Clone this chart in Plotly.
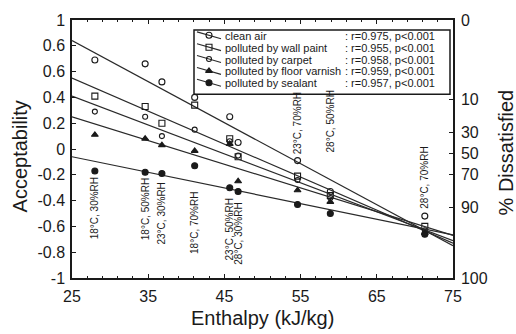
import numpy as np
import plotly.graph_objects as go

# ---------------------------------------------------------------- data
# Enthalpy of each test climate (kJ/kg)
enthalpy = [28.0, 34.6, 36.8, 41.1, 45.7, 46.8, 54.6, 58.9, 71.3]
conditions = ["18°C, 30%RH", "18°C, 50%RH", "23°C, 30%RH", "18°C, 70%RH",
              "23°C, 50%RH", "28°C, 30%RH", "23°C, 70%RH", "28°C, 50%RH",
              "28°C, 70%RH"]

series_names = ["clean air", "polluted by wall paint", "polluted by carpet",
                "polluted by floor varnish", "polluted by sealant"]

# Mean acceptability for each climate
clean_air = [0.69, 0.66, 0.52, 0.40, 0.25, 0.05, -0.09, -0.33, -0.52]
wall_paint = [0.41, 0.33, 0.20, 0.34, 0.08, -0.06, -0.21, -0.36, -0.60]
carpet = [0.29, 0.25, 0.10, 0.15, 0.06, -0.05, -0.24, -0.38, -0.63]
floor_varnish = [0.11, 0.08, 0.03, -0.015, 0.04, -0.25, -0.32, -0.41, -0.65]
sealant = [-0.17, -0.18, -0.19, -0.13, -0.30, -0.33, -0.43, -0.50, -0.66]

r_values = [0.975, 0.955, 0.958, 0.959, 0.957]
p_text = "p<0.001"

# Regression lines evaluated at both ends of the enthalpy axis
fit_enthalpy = [25, 75]
fit_clean_air = [0.84, -0.75]
fit_wall_paint = [0.55, -0.73]
fit_carpet = [0.41, -0.71]
fit_floor_varnish = [0.25, -0.67]
fit_sealant = [-0.06, -0.665]

# Axis ticks
enthalpy_ticks = [25, 35, 45, 55, 65, 75]
acc_ticks = [1, 0.8, 0.6, 0.4, 0.2, 0, -0.2, -0.4, -0.6, -0.8, -1]
acc_ticktext = ["1", "0.6", "0.6", "0.4", "0.2", "0", "-0.2", "-0.4",
                "-0.6", "-0.8", "-1"]
pd_ticks = [0, 10, 30, 50, 70, 90, 100]

# ---------------------------------------------------------------- styling
W, H = 516, 334
L, R, T, B = 72, 63, 17, 56          # plot margins (px)
PW, PH = W - L - R, H - T - B
FONT = "Arial, Liberation Sans, sans-serif"
INK = "#1a1a1a"


def px_x(px):
    return (px - L) / PW


def px_y(py):
    return (H - B - py) / PH


def pd_to_acc(pd):
    """Position of a %-dissatisfied value on the acceptability scale."""
    if pd <= 0:
        return 1.0
    if pd >= 100:
        return -1.0
    return (-0.18 - np.log(pd / (100.0 - pd))) / 5.28


series_values = [clean_air, wall_paint, carpet, floor_varnish, sealant]
series_fits = [fit_clean_air, fit_wall_paint, fit_carpet, fit_floor_varnish,
               fit_sealant]
marker_styles = [
    dict(symbol="circle-open", size=6),
    dict(symbol="square-open", size=6),
    dict(symbol="circle-open", size=5),
    dict(symbol="triangle-up", size=6),
    dict(symbol="circle", size=6),
]

fig = go.Figure()

for vals, fit, ms in zip(series_values, series_fits, marker_styles):
    fig.add_trace(go.Scatter(
        x=fit_enthalpy, y=fit, mode="lines",
        line=dict(color="#2a2a2a", width=1.2),
        showlegend=False, hoverinfo="skip"))
    fig.add_trace(go.Scatter(
        x=enthalpy, y=vals, mode="markers",
        marker=dict(symbol=ms["symbol"], size=ms["size"], color=INK,
                    line=dict(color=INK, width=1.1)),
        showlegend=False))

# dummy trace so the right-hand axis is drawn
fig.add_trace(go.Scatter(x=[None], y=[None], yaxis="y2", showlegend=False))

# ---------------------------------------------------------------- key box
row0, row_gap = 33, 12
box = dict(x0=194, x1=450, y0=27, y1=92)
fig.add_shape(type="rect", xref="paper", yref="paper",
              x0=px_x(box["x0"]), x1=px_x(box["x1"]),
              y0=px_y(box["y1"]), y1=px_y(box["y0"]),
              line=dict(color=INK, width=1.5), fillcolor="white",
              layer="below")

for i, (name, r, ms) in enumerate(zip(series_names, r_values, marker_styles)):
    ry = row0 + i * row_gap
    fig.add_trace(go.Scatter(
        x=[197, 221], y=[ry - 4, ry + 3], xaxis="x3", yaxis="y3",
        mode="lines", line=dict(color="#2a2a2a", width=1.1),
        showlegend=False, hoverinfo="skip"))
    fig.add_trace(go.Scatter(
        x=[209], y=[ry - 0.5], xaxis="x3", yaxis="y3", mode="markers",
        marker=dict(symbol=ms["symbol"], size=ms["size"], color=INK,
                    line=dict(color=INK, width=1.1)),
        showlegend=False, hoverinfo="skip"))
    fig.add_annotation(x=px_x(223), y=px_y(ry), xref="paper", yref="paper",
                       text=name, showarrow=False, xanchor="left",
                       yanchor="middle", font=dict(size=11, color=INK))
    fig.add_annotation(x=px_x(343), y=px_y(ry), xref="paper", yref="paper",
                       text=f": r={r:.3f}, {p_text}", showarrow=False,
                       xanchor="left", yanchor="middle",
                       font=dict(size=11, color=INK))

# ---------------------------------------------------------------- climate labels
# (condition index, anchor on acceptability scale, side of anchor)
label_places = [
    (0, -0.205, "top"), (1, -0.21, "top"), (2, -0.245, "top"),
    (3, -0.32, "top"), (4, -0.37, "top"), (5, -0.40, "top"),
    (6, -0.06, "bottom"), (7, -0.04, "bottom"), (8, -0.48, "bottom"),
]
for idx, ya, side in label_places:
    fig.add_annotation(x=enthalpy[idx], y=ya, xref="x", yref="y",
                       text=conditions[idx], textangle=-90, showarrow=False,
                       xanchor="center", yanchor=side,
                       font=dict(size=10, color=INK))

# ---------------------------------------------------------------- axis titles
title_font = dict(size=20, color=INK)
fig.add_annotation(x=px_x(262), y=px_y(318), xref="paper", yref="paper",
                   text="Enthalpy (kJ/kg)", showarrow=False,
                   xanchor="center", yanchor="middle", font=title_font)
fig.add_annotation(x=px_x(20), y=px_y(155), xref="paper", yref="paper",
                   text="Acceptability", textangle=-90, showarrow=False,
                   xanchor="center", yanchor="middle", font=title_font)
fig.add_annotation(x=px_x(506), y=px_y(151), xref="paper", yref="paper",
                   text="% Dissatisfied", textangle=-90, showarrow=False,
                   xanchor="center", yanchor="middle", font=title_font)

axis_common = dict(showline=True, linecolor=INK, linewidth=1.5,
                   showgrid=False, zeroline=False, ticks="inside",
                   tickcolor=INK, ticklen=4,
                   tickfont=dict(size=16, color=INK))

fig.update_layout(
    width=W, height=H,
    margin=dict(l=L, r=R, t=T, b=B),
    paper_bgcolor="white", plot_bgcolor="white",
    font=dict(family=FONT, color=INK),
    showlegend=False,
    xaxis=dict(range=[25, 75], tickvals=enthalpy_ticks, mirror="ticks",
               ticklabelstandoff=3,
               minor=dict(ticks="inside", ticklen=2, tick0=25, dtick=2,
                          tickcolor=INK),
               **axis_common),
    yaxis=dict(range=[-1, 1], tickvals=acc_ticks, ticktext=acc_ticktext,
               ticklabelstandoff=2, **axis_common),
    yaxis2=dict(range=[-1, 1], overlaying="y", side="right",
                tickvals=[pd_to_acc(v) for v in pd_ticks],
                ticktext=[str(v) for v in pd_ticks],
                ticklabelstandoff=3, **axis_common),
    xaxis3=dict(range=[L, W - R], overlaying="x", visible=False),
    yaxis3=dict(range=[H - B, T], overlaying="y", visible=False),
)

fig.write_html("out.html")
